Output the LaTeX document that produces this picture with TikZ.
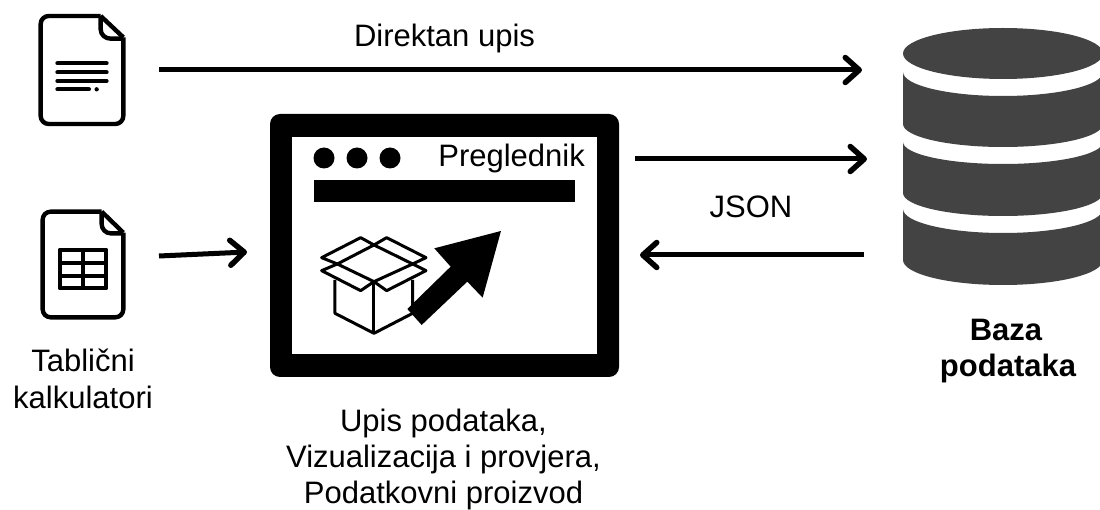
\documentclass[tikz,border=0pt]{standalone}
\usepackage{fontspec}
\setmainfont{Liberation Sans}
\usetikzlibrary{arrows.meta}
\newcommand{\fs}{\fontsize{31}{37}\selectfont}
\tikzset{
  conn/.style={line width=5pt,-{Straight Barb[length=14pt,width=25pt,line width=5.5pt,round]}},
  label/.style={font=\fs,inner sep=0pt,align=center,text=black},
  doc/.style={line width=4.4pt,line join=round,rounded corners=8pt},
  fold/.style={line width=4.4pt,line join=round},
  docline/.style={line width=4pt,line cap=round},
  tableline/.style={line width=4.2pt,line join=round},
  boxline/.style={line width=3pt,line join=round},
  dbcol/.style={fill=dbgrey,draw=none}
}
\definecolor{dbgrey}{HTML}{434343}
\begin{document}
\begin{tikzpicture}[x=1pt,y=-1pt]
\useasboundingbox (0,0) rectangle (1100,510);
% document icon
\begin{scope}[shift={(20,0)},x=0.3333pt,y=-0.3333pt]
  \draw[doc] (242,48) -- (62,48) -- (62,372) -- (310,372) -- (310,112);
  \draw[fold] (242,48) -- (310,112);
  \draw[fold] (242,48) -- (242,88) to[out=-90,in=180] (272,116) -- (310,116);
  \foreach \yy in {190,217,243} \draw[docline] (112,\yy) -- (260,\yy);
  \draw[docline] (112,268) -- (207,268);
  \fill (230,268) circle (6.5);
\end{scope}
% table icon
\begin{scope}[shift={(20,200)},x=0.3333pt,y=-0.3333pt]
  \draw[doc] (245,35) -- (68,35) -- (68,352) -- (310,352) -- (310,98);
  \draw[fold] (245,35) -- (310,98);
  \draw[fold] (245,35) -- (245,72) to[out=-90,in=180] (272,100) -- (310,100);
  \draw[tableline] (119,149) rectangle (259,265);
  \draw[tableline] (188,149) -- (188,265) (119,188) -- (259,188) (119,227) -- (259,227);
\end{scope}
% browser window
\node[draw=none,fill=black,rounded corners=10pt,minimum width=349pt,minimum height=263pt,inner sep=0pt] (win) at (444.5,245.5) {};
\node[fill=white,minimum width=305pt,minimum height=217pt,inner sep=0pt] (pane) at (444.5,245.5) {};
\foreach \xx in {324,357,390} \fill (\xx,158) circle (10.5);
\fill (313.5,180) rectangle (575,202);
\node[label,anchor=base east] (prg) at (585,167) {Preglednik};
\begin{scope}[shift={(260,105)},x=0.3333pt,y=-0.3333pt]
  % box
  \draw[boxline] (225,525) -- (225,625) -- (342,685) -- (458,625) -- (458,525);
  \draw[boxline] (342,530) -- (342,685);
  \draw[boxline] (232,477) -- (342,420) -- (458,477) -- (342,530) -- cycle;
  \draw[boxline] (232,477) -- (185,458) -- (302,398) -- (342,420) -- (380,398) -- (498,458) -- (458,477);
  \draw[boxline] (232,477) -- (185,497) -- (302,557) -- (342,530) -- (380,557) -- (498,497) -- (458,477);
  % upload arrow
  \fill (723,378) -- (523,430) -- (572,485) -- (442,612) -- (485,660) -- (622,530) -- (668,578) -- cycle;
\end{scope}
% database (clipped on the picture's right edge)
\begin{scope}
  \clip (0,0) rectangle (1100,510);
  \fill[dbcol] (1003,53.5) ellipse (100 and 25.5);
  \fill[dbcol] (903,72) arc[start angle=180,end angle=0,x radius=100,y radius=24] -- (1103,124) arc[start angle=0,end angle=180,x radius=100,y radius=23] -- cycle;
  \fill[dbcol] (903,142) arc[start angle=180,end angle=0,x radius=100,y radius=22] -- (1103,193) arc[start angle=0,end angle=180,x radius=100,y radius=23] -- cycle;
  \fill[dbcol] (903,209) arc[start angle=180,end angle=0,x radius=100,y radius=24] -- (1103,260) arc[start angle=0,end angle=180,x radius=100,y radius=25] -- cycle;
\end{scope}
% labels
\node[label,anchor=base] (dir) at (444.5,47) {Direktan upis};
\node[label,anchor=base] (json) at (751,218) {JSON};
\node[label,anchor=base] (tab) at (83,372) {Tablični};
\node[label,anchor=base] (kalk) at (83,408) {kalkulatori};
\node[label,anchor=base,font=\fs\bfseries] (baza) at (1006,341) {Baza};
\node[label,anchor=base,font=\fs\bfseries] (poda) at (1008,377) {podataka};
\node[label,anchor=base] (up1) at (443.5,431) {Upis podataka,};
\node[label,anchor=base] (up2) at (443.5,467.5) {Vizualizacija i provjera,};
\node[label,anchor=base] (up3) at (443.5,503) {Podatkovni proizvod};
% connector ends
\coordinate (a1) at (159,70); \coordinate (b1) at (862,70);
\coordinate (a2) at (635,159); \coordinate (b2) at (867,159);
\coordinate (a3) at (864,255); \coordinate (b3) at (640,255);
\coordinate (a4) at (159,256); \coordinate (b4) at (247,252);
\draw[conn] (a1) -- (b1);
\draw[conn] (a2) -- (b2);
\draw[conn] (a3) -- (b3);
\draw[conn] (a4) -- (b4);
\end{tikzpicture}
\end{document}
